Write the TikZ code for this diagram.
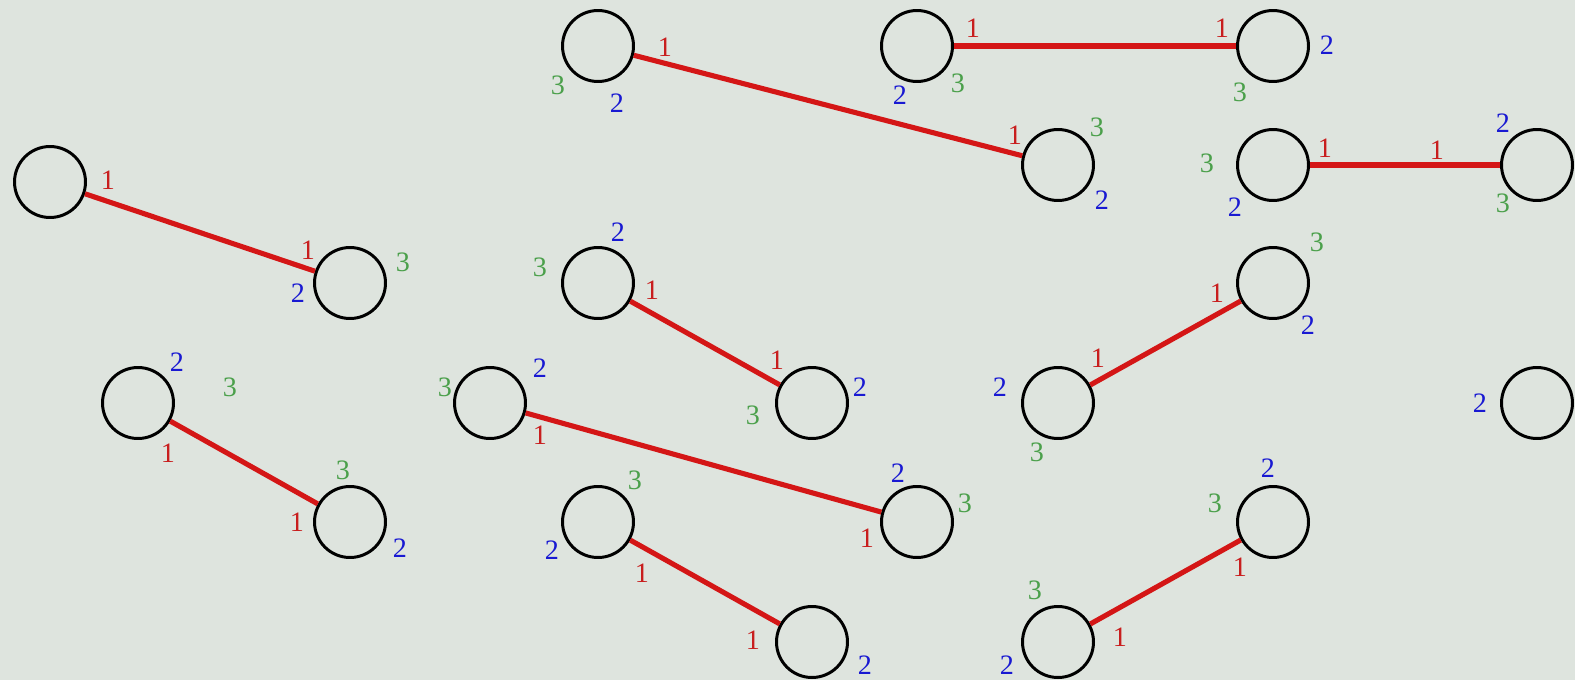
\documentclass[tikz,border=0pt]{standalone}
\usepackage{fontspec}
\setmainfont{Liberation Serif}
\definecolor{bgcol}{RGB}{222,228,222}
\definecolor{linkred}{RGB}{212,22,22}
\definecolor{portred}{RGB}{200,30,30}
\definecolor{portblue}{RGB}{25,25,210}
\definecolor{portgreen}{RGB}{75,160,75}
\tikzset{
    cell/.style={circle, draw=black, line width=1.7pt, minimum size=1.42cm, inner sep=0pt},
    link/.style={linkred, line width=2.9pt},
    port/.style={inner sep=0pt, font=\fontsize{16}{16}\selectfont},
    pone/.style={port, text=portred},
    ptwo/.style={port, text=portblue},
    pthree/.style={port, text=portgreen}
}
\begin{document}
\begin{tikzpicture}[x=0.02cm, y=-0.02cm]
    % 1. Background and frame
    \fill[bgcol] (0,0) rectangle (1575,680);
    \useasboundingbox (0,0) rectangle (1575,680);

    % 2. The cells (circles)
    \foreach \n/\p in {a/{50,182}, b/{350,283}, c/{598,46}, d/{917,46}, e/{1273,46},
        f/{1058,165}, g/{1273,165}, h/{1537,165}, i/{598,283}, j/{1273,283},
        k/{138,403}, l/{490,403}, m/{812,403}, n/{1058,403}, o/{1537,403},
        p/{350,522}, q/{598,522}, r/{917,522}, s/{1273,522}, t/{812,642}, u/{1058,642}}
        \node[cell] (\n) at (\p) {};

    % 3. Links between port 1 of two cells
    \draw[link] (a) -- (b);
    \draw[link] (c) -- (f);
    \draw[link] (d) -- (e);
    \draw[link] (g) -- (h);
    \draw[link] (i) -- (m);
    \draw[link] (j) -- (n);
    \draw[link] (k) -- (p);
    \draw[link] (l) -- (r);
    \draw[link] (q) -- (t);
    \draw[link] (u) -- (s);

    % 4. Port numbers: 1 red, 2 blue, 3 green
    \foreach \n/\p in {a/{108,180}, b/{308,250}, c/{665,47}, d/{973,28}, e/{1222,28},
        f/{1015,135}, g/{1325,148}, h/{1437,150}, i/{652,290}, j/{1217,293},
        k/{168,453}, l/{540,435}, m/{777,360}, n/{1098,358}, p/{297,522},
        q/{642,573}, r/{867,538}, s/{1240,567}, t/{753,640}, u/{1120,637}}
        \node[pone] (\n1) at (\p) {1};
    \foreach \n/\p in {b/{298,293}, c/{617,103}, d/{900,95}, e/{1327,45},
        f/{1102,200}, g/{1235,207}, h/{1503,123}, i/{618,232}, j/{1308,325},
        k/{177,362}, l/{540,368}, m/{860,387}, n/{1000,387}, o/{1480,403},
        p/{400,548}, q/{552,550}, r/{898,473}, s/{1268,468}, t/{865,665}, u/{1007,665}}
        \node[ptwo] (\n2) at (\p) {2};
    \foreach \n/\p in {b/{403,262}, c/{558,85}, d/{958,83}, e/{1240,92},
        f/{1097,127}, g/{1207,163}, h/{1503,203}, i/{540,267}, j/{1317,242},
        k/{230,387}, l/{445,387}, m/{753,415}, n/{1037,452},
        p/{343,470}, q/{635,480}, r/{965,503}, s/{1215,503}, u/{1035,590}}
        \node[pthree] (\n3) at (\p) {3};

\end{tikzpicture}
\end{document}
